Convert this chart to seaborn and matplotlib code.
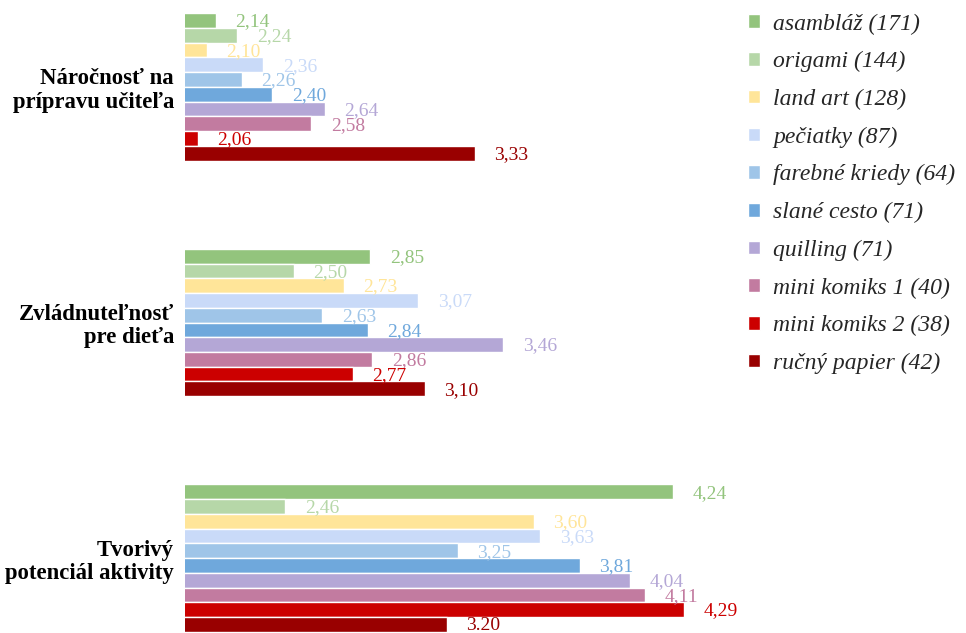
import matplotlib
matplotlib.use("Agg")
import matplotlib.pyplot as plt
import seaborn as sns
import pandas as pd

categories = ["Náročnosť na\nprípravu učiteľa", "Zvládnuteľnosť\npre dieťa", "Tvorivý\npotenciál aktivity"]
activities = ["asambláž (171)", "origami (144)", "land art (128)", "pečiatky (87)",
              "farebné kriedy (64)", "slané cesto (71)", "quilling (71)",
              "mini komiks 1 (40)", "mini komiks 2 (38)", "ručný papier (42)"]
colors = ["#93C47D", "#B6D7A8", "#FFE599", "#C9DAF8", "#9FC5E8",
          "#6FA8DC", "#B4A7D6", "#C27BA0", "#CC0000", "#990000"]

narocnost = [2.14, 2.24, 2.10, 2.36, 2.26, 2.40, 2.64, 2.58, 2.06, 3.33]
zvladnutelnost = [2.85, 2.50, 2.73, 3.07, 2.63, 2.84, 3.46, 2.86, 2.77, 3.10]
tvorivy = [4.24, 2.46, 3.60, 3.63, 3.25, 3.81, 4.04, 4.11, 4.29, 3.20]
series = [narocnost, zvladnutelnost, tvorivy]

# value labels as printed in the source (one uses a decimal point)
label_overrides = {(2, 9): "3.20"}

rows = []
for ci, cat in enumerate(categories):
    for ai, act in enumerate(activities):
        rows.append({"category": cat, "activity": act, "value": series[ci][ai]})
df = pd.DataFrame(rows)

sns.set_theme(style="white")
plt.rcParams["font.family"] = ["Liberation Serif", "DejaVu Serif"]

fig = plt.figure(figsize=(9.66, 6.33), dpi=100)
ax = fig.add_axes([185 / 966, 0, (730 - 185) / 966, 1])

sns.barplot(data=df, y="category", x="value", hue="activity", orient="h",
            order=categories, hue_order=activities, palette=colors, saturation=1,
            width=0.625, edgecolor="white", linewidth=1.0, ax=ax)

ax.set_xlim(2.0, 4.5)
ax.set_ylim(2.318, -0.369)
sns.despine(ax=ax, left=True, bottom=True, top=True, right=True)
ax.set_xlabel("")
ax.set_ylabel("")
ax.set_xticks([])
ax.tick_params(axis="y", length=0, pad=8)
for t in ax.get_yticklabels():
    t.set_fontweight("bold")
    t.set_fontsize(16.4)
    t.set_linespacing(1.13)
    t.set_color("black")

for ai, cont in enumerate(ax.containers):
    for ci, bar in enumerate(cont):
        v = series[ci][ai]
        txt = label_overrides.get((ci, ai), f"{v:.2f}".replace(".", ","))
        ax.annotate(txt, xy=(bar.get_width(), bar.get_y() + bar.get_height() / 2),
                    xytext=(14, -1), textcoords="offset points",
                    ha="left", va="center", fontsize=14, color=colors[ai],
                    annotation_clip=False)

handles, labels = ax.get_legend_handles_labels()
ax.get_legend().remove()
fig.legend(handles, labels, loc="upper left", bbox_to_anchor=(748 / 966, 1 - 13.5 / 633),
           frameon=False, borderpad=0, borderaxespad=0,
           handlelength=0.51, handleheight=0.51, handletextpad=0.55,
           labelspacing=0.70, prop={"family": "Liberation Serif", "style": "italic", "size": 17})

fig.savefig("out.png", dpi=100)
